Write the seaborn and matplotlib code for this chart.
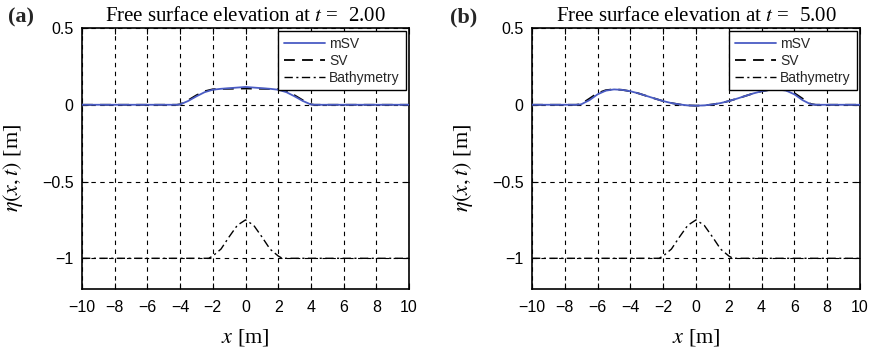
import matplotlib
matplotlib.use("Agg")
import matplotlib.pyplot as plt
import seaborn as sns
import numpy as np

sns.set_theme(style="white")
plt.rcParams['font.family'] = ['Liberation Sans', 'DejaVu Sans']
plt.rcParams['mathtext.fontset'] = 'stix'
plt.rcParams['axes.unicode_minus'] = True

# ---- data ----
x_t2 = [-10, -4.2, -4, -3.5, -3, -2.5, -2, -1.5, -1, -0.5, 0, 0.5, 1, 1.5, 2, 2.5, 3, 3.5, 4, 4.2, 10]
msv_t2 = [0, 0, 0.002, 0.025, 0.055, 0.082, 0.098, 0.104, 0.108, 0.112, 0.116, 0.112, 0.108, 0.104, 0.098, 0.082, 0.055, 0.025, 0.002, 0, 0]
sv_t2 = [0, 0, 0.003, 0.03, 0.062, 0.088, 0.101, 0.103, 0.104, 0.105, 0.106, 0.105, 0.104, 0.103, 0.101, 0.088, 0.062, 0.03, 0.003, 0, 0]

x_t5 = [-10, -7.3, -7, -6.5, -6, -5.5, -5, -4.5, -4, -3.5, -3, -2.5, -2, -1.5, -1, -0.5, 0,
        0.5, 1, 1.5, 2, 2.5, 3, 3.5, 4, 4.5, 5, 5.5, 6, 6.5, 7, 7.3, 10]
msv_t5 = [0, 0, 0.003, 0.03, 0.068, 0.092, 0.1, 0.097, 0.088, 0.074, 0.057, 0.04, 0.024, 0.011, 0.002, -0.004, -0.006,
          -0.004, 0.002, 0.011, 0.024, 0.04, 0.057, 0.074, 0.088, 0.097, 0.1, 0.092, 0.068, 0.03, 0.003, 0, 0]
sv_t5 = [0, 0, 0.005, 0.04, 0.076, 0.095, 0.101, 0.097, 0.088, 0.074, 0.057, 0.04, 0.024, 0.011, 0.002, -0.004, -0.006,
         -0.004, 0.002, 0.011, 0.024, 0.04, 0.057, 0.074, 0.088, 0.097, 0.101, 0.095, 0.076, 0.04, 0.005, 0, 0]

x_bathy = [-10, -2.25, -2, -1.5, -1, -0.5, 0, 0.5, 1, 1.5, 2, 2.25, 10]
bathy = [-1, -1, -0.985, -0.94, -0.86, -0.785, -0.75, -0.785, -0.86, -0.94, -0.985, -1, -1]

x_ticks = [-10, -8, -6, -4, -2, 0, 2, 4, 6, 8, 10]
y_ticks = [-1, -0.5, 0, 0.5]
y_ticklabels = ['\u22121', '\u22120.5', '0', '0.5']
times = ['2.00', '5.00']
panel_labels = ['(a)', '(b)']

blue = '#4a5cc4'

fig = plt.figure(figsize=(8.75, 3.51), dpi=100)
ax_a = fig.add_axes([82/875, 1-289/351, 327/875, 261/351])
ax_b = fig.add_axes([532/875, 1-289/351, 328/875, 261/351])

series = [(x_t2, msv_t2, sv_t2), (x_t5, msv_t5, sv_t5)]

for ax, (xs, msv, sv), tt, pl in zip([ax_a, ax_b], series, times, panel_labels):
    ax.set_facecolor('white')
    sns.lineplot(x=x_bathy, y=bathy, ax=ax, color='black', linestyle=(0, (6, 2.5, 1.5, 2.5)),
                 linewidth=1.0, estimator=None, sort=False, label='Bathymetry', zorder=3)
    sns.lineplot(x=xs, y=sv, ax=ax, color='black', linestyle=(0, (6, 4)), linewidth=1.3,
                 estimator=None, sort=False, label='SV', zorder=4)
    sns.lineplot(x=xs, y=msv, ax=ax, color=blue, linewidth=1.3,
                 estimator=None, sort=False, label='mSV', zorder=5)
    ax.set_xlim(-10, 10)
    ax.set_ylim(-1.2, 0.5)
    ax.set_xticks(x_ticks)
    ax.set_xticklabels([('\u2212' + str(-t)) if t < 0 else str(t) for t in x_ticks])
    ax.set_yticks(y_ticks)
    ax.set_yticklabels(y_ticklabels)
    ax.tick_params(direction='in', length=4, width=0.8, top=True, right=True,
                   bottom=True, left=True, labelsize=11.5, colors='black')
    ax.tick_params(axis='x', pad=8)
    ax.tick_params(axis='y', pad=6)
    ax.grid(True, color='black', linestyle=(0, (4, 4)), linewidth=0.8)
    ax.set_axisbelow(True)
    for s in ax.spines.values():
        s.set_color('black')
        s.set_linewidth(1.2)
    ax.set_title('Free surface elevation at $t$ =  ' + tt, family='Liberation Serif',
                 fontsize=15, pad=5, color='black')
    ax.set_xlabel('$x$ [m]', family='Liberation Serif', fontsize=16, color='black')
    ax.set_ylabel(r'$\eta(x,t)$ [m]', family='Liberation Serif', fontsize=16, color='black')
    handles, labels = ax.get_legend_handles_labels()
    order = [labels.index('mSV'), labels.index('SV'), labels.index('Bathymetry')]
    leg = ax.legend([handles[i] for i in order], [labels[i] for i in order],
                    loc='upper right', fontsize=10, frameon=True, fancybox=False,
                    edgecolor='black', framealpha=1, borderaxespad=0.25,
                    handlelength=3.0, handletextpad=0.3, labelspacing=0.2, borderpad=0.4)
    leg.get_frame().set_linewidth(1.0)

ax_a.yaxis.set_label_coords(-0.175, 0.465)
ax_b.yaxis.set_label_coords(-0.175, 0.465)
ax_a.xaxis.set_label_coords(0.5, -0.145)
ax_b.xaxis.set_label_coords(0.5, -0.145)

fig.text(8/875, 1-17/351, '(a)', family='Liberation Serif', fontweight='bold', fontsize=16, va='center', ha='left')
fig.text(450/875, 1-17/351, '(b)', family='Liberation Serif', fontweight='bold', fontsize=16, va='center', ha='left')

fig.savefig('out.png', dpi=100, facecolor='white')
